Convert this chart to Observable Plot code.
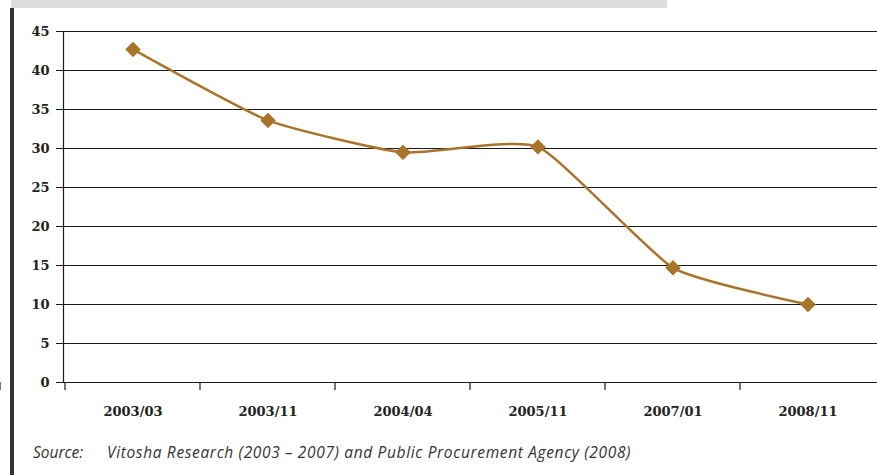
<!DOCTYPE html>
<html>
<head>
<meta charset="utf-8">
<script src="https://cdn.jsdelivr.net/npm/d3@7"></script>
<script src="https://cdn.jsdelivr.net/npm/@observablehq/plot@0.6"></script>
<style>
  html, body { margin: 0; padding: 0; background: #fff; }
  #wrap { position: relative; width: 877px; height: 475px; overflow: hidden; background: #fff; }
  #chart { position: absolute; left: 0; top: 0; z-index: 1; }
  #topbar { position: absolute; left: 11px; top: 0; width: 656px; height: 8px; background: #dcdddf; z-index: 3; }
  #leftbar { position: absolute; left: 10px; top: 8px; width: 4px; height: 467px; background: #333333; z-index: 3; }
  .cap { position: absolute; top: 441px; font-family: "Open Sans", Lato, sans-serif; font-style: italic; font-size: 15.5px; color: #333; white-space: pre; z-index: 3; }
  #capLabel { left: 33px; }
  #capText { left: 107px; letter-spacing: 0.65px; }
</style>
</head>
<body>
<div id="wrap">
  <div id="chart"></div>
  <div id="topbar"></div>
  <div id="leftbar"></div>
  <div id="capLabel" class="cap"></div>
  <div id="capText" class="cap"></div>
</div>
<script>
const categories = ["2003/03", "2003/11", "2004/04", "2005/11", "2007/01", "2008/11"];
const values = [42.7, 33.6, 29.5, 30.2, 14.7, 10.0];
const yTicks = [0, 5, 10, 15, 20, 25, 30, 35, 40, 45];
const sourceLabel = "Source:";
const sourceText = "Vitosha Research (2003 \u2013 2007) and Public Procurement Agency (2008)";

const data = categories.map((c, i) => ({ cat: c, value: values[i] }));
const color = "#a8742a";

const boundaryTicks = (index, scales, vals, dims) => {
  const g = d3.create("svg:g");
  const bw = scales.x.bandwidth;
  const xs = categories.map(c => scales.x(c));
  xs.push(xs[xs.length - 1] + bw);
  const y0 = scales.y(0);
  g.selectAll("line").data(xs).join("line")
    .attr("x1", d => d).attr("x2", d => d)
    .attr("y1", y0).attr("y2", y0 + 8)
    .attr("stroke", "#1a1a1a").attr("stroke-width", 1.2);
  return g.node();
};

const chart = Plot.plot({
  width: 877,
  height: 430,
  marginLeft: 63,
  marginRight: 0,
  marginTop: 31,
  marginBottom: 48,
  style: { fontFamily: "'DejaVu Serif', serif", background: "transparent", overflow: "visible" },
  x: { type: "band", domain: categories, padding: 0 },
  y: { domain: [0, 45] },
  marks: [
    Plot.gridY(yTicks, { stroke: "#1a1a1a", strokeOpacity: 1, strokeWidth: 1.2 }),
    Plot.frame({ anchor: "left", stroke: "#1a1a1a", strokeWidth: 1.2 }),
    Plot.ruleY([0], { stroke: "#1a1a1a", strokeWidth: 1.2 }),
    Plot.axisY(yTicks, { tickSize: 7, tickPadding: 7, fontSize: 13, fontWeight: "bold", fill: "#222", stroke: "#1a1a1a", label: null }),
    Plot.axisX({ tickSize: 0, tickPadding: 24, fontSize: 13, fontWeight: "bold", fill: "#222", label: null }),
    boundaryTicks,
    Plot.line(data, { x: "cat", y: "value", stroke: color, strokeWidth: 2.5, curve: "cardinal", tension: 0.5 }),
    Plot.dot(data, { x: "cat", y: "value", symbol: "diamond2", r: 6.5, fill: color, stroke: color, strokeWidth: 1 })
  ]
});
document.getElementById("chart").appendChild(chart);
document.getElementById("capLabel").textContent = sourceLabel;
document.getElementById("capText").textContent = sourceText;
</script>
</body>
</html>
